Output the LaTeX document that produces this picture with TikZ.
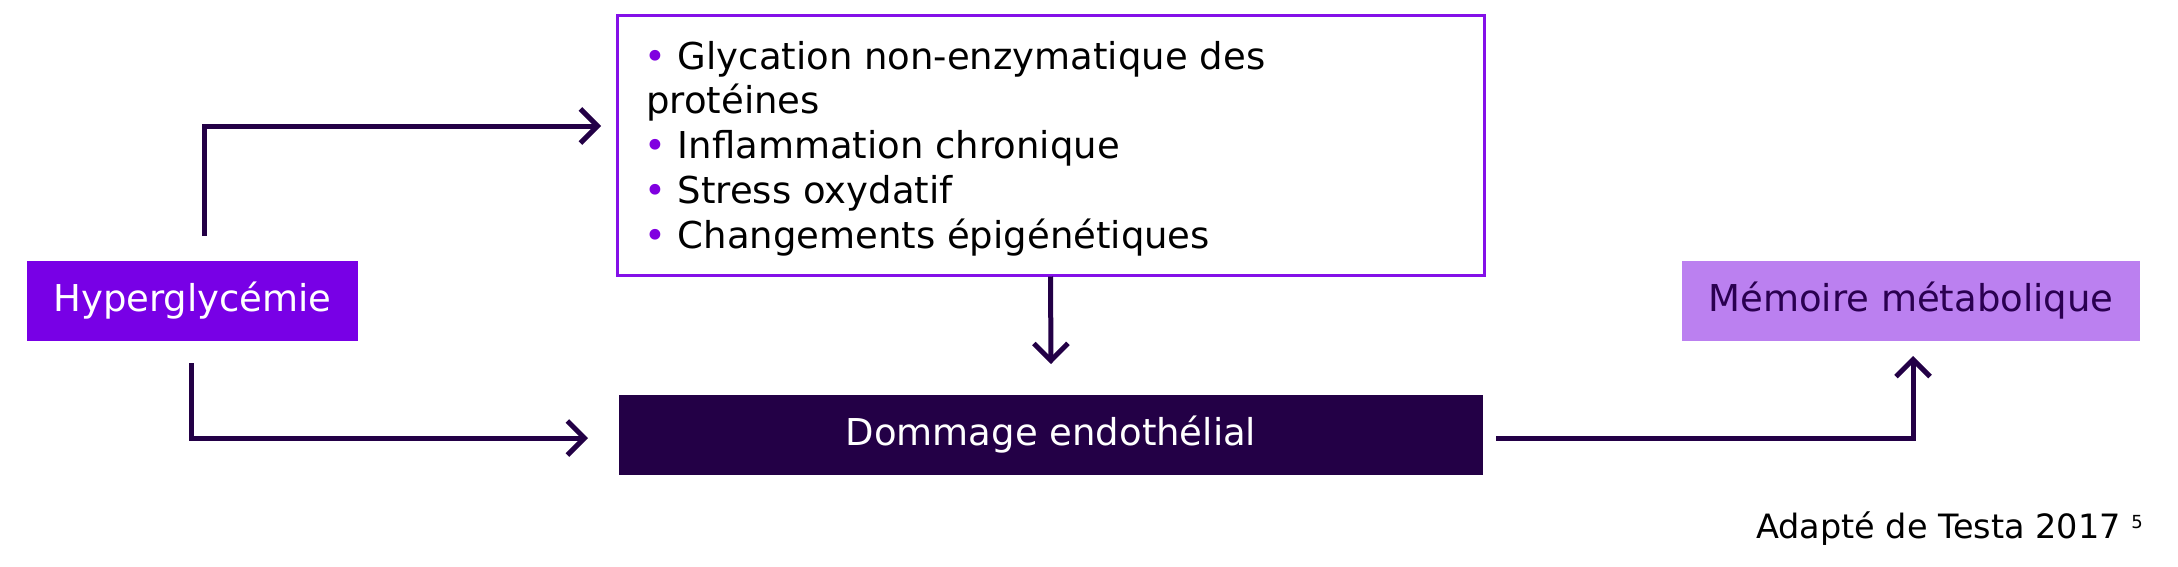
\documentclass[tikz,border=0pt]{standalone}
\usepackage{fontspec}
\setmainfont{DejaVu Sans}
\usetikzlibrary{arrows.meta}
\definecolor{hypfill}{HTML}{7800E6}
\definecolor{mechline}{HTML}{8410E8}
\definecolor{bul}{HTML}{8000E0}
\definecolor{darkp}{HTML}{230046}
\definecolor{memfill}{HTML}{BB80F0}
\definecolor{memtext}{HTML}{2A0050}
\tikzset{
  box/.style={rectangle, inner sep=0pt, font=\fontsize{37}{45}\selectfont},
  conn/.style={draw=darkp, line width=5pt, line join=miter,
    -{Straight Barb[length=17pt,width=34pt,line width=5pt]}},
  itemtxt/.style={anchor=base west, inner sep=0pt, font=\fontsize{37}{45}\selectfont, text=black},
}
\newcommand{\bulletdot}{\textcolor{bul}{•}}
\begin{document}
\begin{tikzpicture}[x=1pt,y=-1pt]
\useasboundingbox (0,0) rectangle (2178,566);
% nodes
\node[box, fill=hypfill, text=white, minimum width=331pt, minimum height=80pt] (hyp) at (192.5,301) {Hyperglycémie};
\node[box, draw=mechline, line width=3pt, minimum width=867pt, minimum height=260pt] (mech) at (1050.5,145) {};
\node[itemtxt] (l1) at (644,69) {\bulletdot{} Glycation non-enzymatique des};
\node[itemtxt] (l2) at (646,113) {protéines};
\node[itemtxt] (l3) at (644,158) {\bulletdot{} Inflammation chronique};
\node[itemtxt] (l4) at (644,203) {\bulletdot{} Stress oxydatif};
\node[itemtxt] (l5) at (644,248) {\bulletdot{} Changements épigénétiques};
\node[box, fill=darkp, text=white, minimum width=864pt, minimum height=80pt] (dom) at (1051,435) {Dommage endothélial};
\node[box, fill=memfill, text=memtext, minimum width=458pt, minimum height=80pt] (mem) at (1911,301) {Mémoire métabolique};
\node[anchor=base east, inner sep=0pt, font=\fontsize{33.5}{38}\selectfont] (src) at (2143,538) {Adapté de Testa 2017 \raisebox{10pt}{\fontsize{18}{18}\selectfont 5}};
% connector end points
\coordinate (h1) at (204,236);
\coordinate (t1) at (601,126);
\coordinate (h2) at (191,363);
\coordinate (t2) at (588,438);
\coordinate (t3) at (1051,364);
\coordinate (d1) at (1496,438);
\coordinate (t4) at (1913,356);
% connectors
\draw[conn] (h1) |- (t1);
\draw[conn] (h2) |- (t2);
\draw[conn] (mech.south) -- (t3);
\draw[conn] (d1) -| (t4);
\end{tikzpicture}
\end{document}
